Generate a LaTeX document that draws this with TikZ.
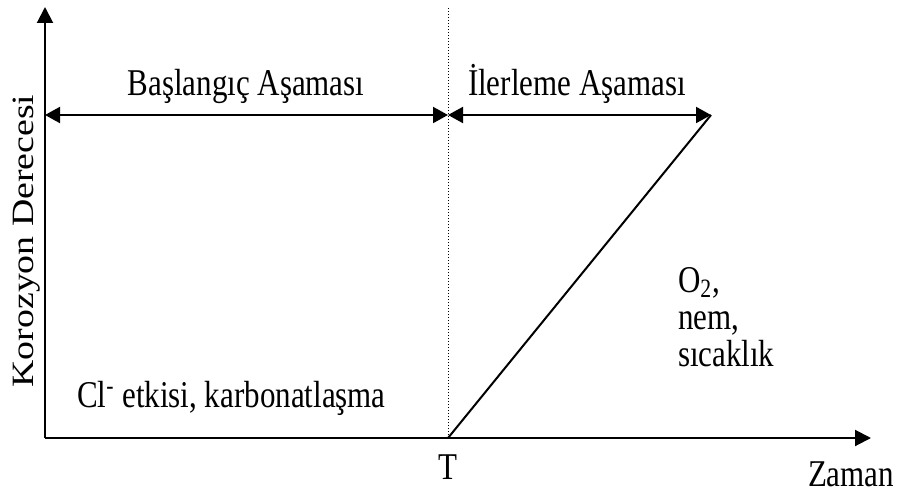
\documentclass[tikz,border=0pt]{standalone}
\usepackage{fontspec}
\setmainfont{Liberation Serif}
\usetikzlibrary{arrows.meta}
\newcommand\vstr[1]{\scalebox{1}[1.22]{#1}}
\newcommand\hstr[1]{\scalebox{1.22}[1]{#1}}
\begin{document}
\begin{tikzpicture}[x=0.5pt,y=-0.5pt,
  axisline/.style={line width=1pt,-{Triangle[length=8pt,width=8pt]}},
  spanline/.style={line width=1pt,{Triangle[length=7.5pt,width=8pt]}-{Triangle[length=7.5pt,width=8pt]}},
  plainline/.style={line width=1pt},
  dotline/.style={line width=0.5pt,dash pattern=on 0.5pt off 1pt},
  lbl/.style={inner sep=0pt,outer sep=0pt,font=\fontsize{15.5}{18}\selectfont}]
\useasboundingbox (0,0) rectangle (898,492);
% coordinates
\coordinate (O) at (45,438);
\coordinate (ytop) at (45,7);
\coordinate (xend) at (871,438);
\coordinate (T) at (448,438);
\coordinate (Ttop) at (448,8);
\coordinate (L) at (45,115);
\coordinate (M) at (448,115);
\coordinate (R) at (711,115);
% axes
\draw[axisline] (O) -- (ytop);
\draw[axisline] (O) -- (xend);
% dotted divider
\draw[dotline] (T) -- (Ttop);
% spans
\draw[spanline] (L) -- (M);
\draw[spanline] (M) -- (R);
% progress line
\draw[plainline] (T) -- (R);
% labels
\node[lbl,anchor=base] (bas) at (246,96) {\vstr{Başlangıç Aşaması}};
\node[lbl,anchor=base west] (ile) at (468,96) {\vstr{İlerleme Aşaması}};
\node[lbl,anchor=base west] (cl) at (77,407) {\vstr{Cl\textsuperscript{-} etkisi, karbonatlaşma}};
\node[lbl,anchor=base west] (o2) at (678,292) {\vstr{O\textsubscript{2},}};
\node[lbl,anchor=base west] (nem) at (678,329) {\vstr{nem,}};
\node[lbl,anchor=base west] (sic) at (678,366) {\vstr{sıcaklık}};
\node[lbl,anchor=base] (tl) at (448,479) {\vstr{T}};
\node[lbl,anchor=base west] (zaman) at (808,486) {\vstr{Zaman}};
\node[lbl,anchor=base,rotate=90] (kor) at (33,241) {\hstr{Korozyon Derecesi}};
\end{tikzpicture}
\end{document}
